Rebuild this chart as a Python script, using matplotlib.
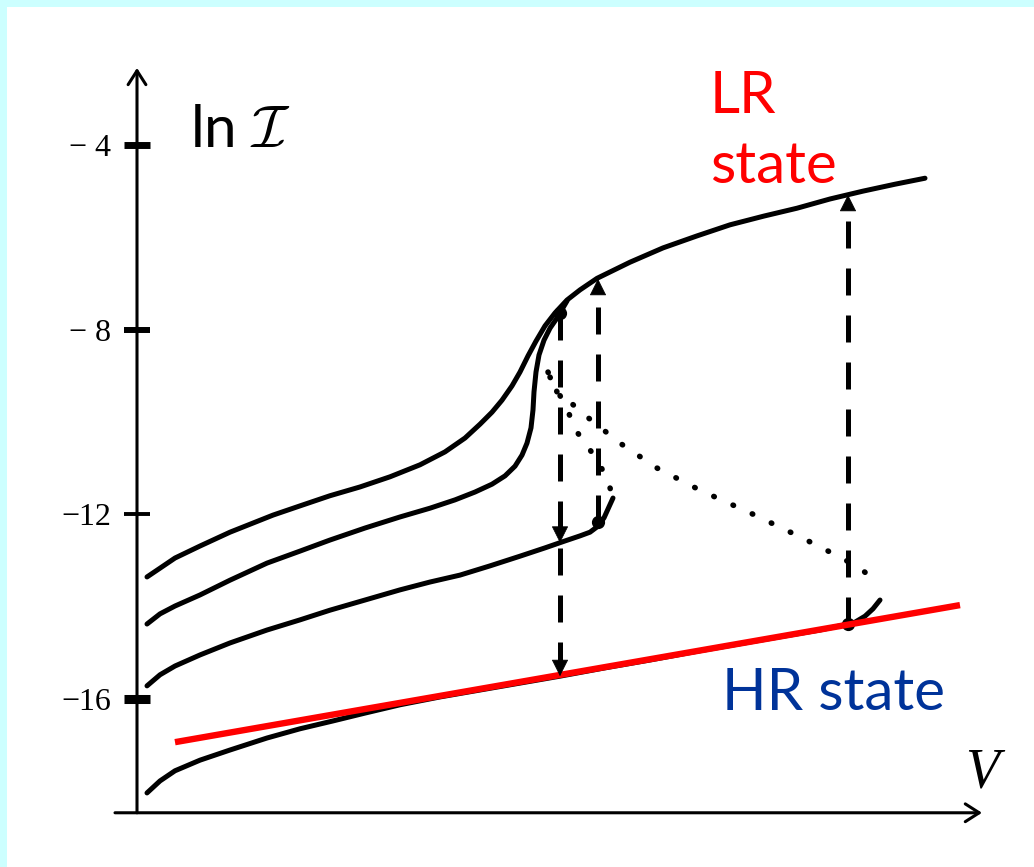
import numpy as np
import matplotlib.pyplot as plt

# I-V branches (V in arbitrary units, ln I)
v_a = [0.10, 0.23, 0.38, 0.63, 0.93, 1.36, 1.63, 1.93, 2.23, 2.53, 2.83, 3.08, 3.28, 3.43,
       3.55, 3.65, 3.75, 3.83, 3.91, 3.99, 4.08, 4.18, 4.30, 4.43, 4.60, 4.93, 5.26, 5.60,
       5.93, 6.27, 6.60, 6.93, 7.26, 7.58, 7.88]
ln_a = [-13.36, -13.17, -12.95, -12.69, -12.39, -12.02, -11.82, -11.60, -11.41, -11.19,
        -10.93, -10.65, -10.35, -10.05, -9.79, -9.53, -9.22, -8.92, -8.57, -8.25, -7.92,
        -7.64, -7.36, -7.14, -6.89, -6.54, -6.23, -5.97, -5.73, -5.54, -5.37, -5.17, -5.00,
        -4.85, -4.72]

v_b = [0.10, 0.23, 0.38, 0.63, 0.93, 1.30, 1.63, 1.93, 2.28, 2.63, 2.93, 3.18, 3.38, 3.55,
       3.68, 3.78, 3.85, 3.90, 3.94, 3.96, 3.97, 3.99, 4.02, 4.07, 4.13, 4.20, 4.30]
ln_b = [-14.38, -14.16, -13.99, -13.75, -13.43, -13.06, -12.80, -12.56, -12.30, -12.06,
        -11.87, -11.69, -11.52, -11.35, -11.17, -10.96, -10.72, -10.46, -10.13, -9.74, -9.35,
        -8.92, -8.55, -8.23, -7.97, -7.75, -7.38]

v_c = [0.10, 0.23, 0.38, 0.63, 0.93, 1.30, 1.63, 1.93, 2.28, 2.63, 2.93, 3.23, 3.53, 3.83,
       4.08, 4.28, 4.43, 4.53, 4.61, 4.67, 4.72, 4.76]
ln_c = [-15.72, -15.48, -15.29, -15.05, -14.79, -14.51, -14.29, -14.08, -13.86, -13.64,
        -13.47, -13.32, -13.12, -12.91, -12.73, -12.58, -12.47, -12.39, -12.26, -12.08,
        -11.84, -11.65]

v_d = [0.10, 0.23, 0.38, 0.63, 0.93, 1.30, 1.63, 1.96, 2.28, 2.63, 3.03, 3.43, 3.83, 4.23,
       4.68, 5.13, 5.63, 6.13, 6.53, 6.83, 7.03, 7.18, 7.28, 7.36, 7.43]
ln_d = [-18.04, -17.78, -17.56, -17.33, -17.11, -16.85, -16.65, -16.48, -16.31, -16.13,
        -15.96, -15.81, -15.66, -15.51, -15.33, -15.16, -14.96, -14.77, -14.62, -14.51,
        -14.42, -14.34, -14.21, -14.05, -13.86]

# unstable branches (dotted)
v_u1 = [4.11, 4.20, 4.33, 4.50, 4.83, 5.20, 5.63, 6.13, 6.63, 7.03, 7.23, 7.41]
ln_u1 = [-8.92, -9.35, -9.57, -9.89, -10.46, -11.00, -11.48, -11.97, -12.49, -12.93,
         -13.17, -13.49]
v_u2 = [4.13, 4.28, 4.40, 4.51, 4.63, 4.71, 4.75]
ln_u2 = [-9.03, -9.63, -10.22, -10.54, -10.93, -11.30, -11.56]

# HR fit line
v_fit = [0.38, 8.23]
ln_fit = [-16.94, -13.97]

# switching jumps
jump_down_v = 4.23
jump_down = [-7.64, -12.62, -15.51]
jump_up_v = [4.61, 7.11]
jump_up_from = [-12.17, -14.38]
jump_up_to = [-6.90, -5.08]

ticks = [-4, -8, -12, -16]
tick_labels = ['\u2212 4', '\u2212 8', '\u221212', '\u221216']
tick_widths = [5.0, 4.3, 2.8, 6.5]

fig = plt.figure(figsize=(10.34, 8.67), dpi=100, facecolor='#ccffff')
ax = fig.add_axes([7 / 1034, 0, 1 - 7 / 1034, 1 - 7 / 867])
ax.set_facecolor('white')
ax.set_xlim(-1.30, 8.97)
ax.set_ylim(-19.645, -1.01)

for s in ax.spines.values():
    s.set_visible(False)
ax.spines['left'].set_position(('data', 0))
ax.set_xticks([])
ax.set_yticks(ticks, tick_labels)
ax.tick_params(axis='y', direction='inout', length=18.7, width=3, pad=9.4,
               labelsize=23, colors='black')
for t, w in zip(ax.yaxis.get_major_ticks(), tick_widths):
    t.tick1line.set_markeredgewidth(w)
for lab in ax.get_yticklabels():
    lab.set_fontfamily('Liberation Serif')

# axes with arrows
y0 = -18.47
axis_style = dict(arrowstyle='->,head_length=0.5,head_width=0.32', mutation_scale=20,
                  lw=2.2, color='black', shrinkA=0, shrinkB=0)
ax.annotate('', xy=(0, -2.33), xytext=(0, y0), arrowprops=axis_style)
ax.annotate('', xy=(8.45, y0), xytext=(-0.22, y0), arrowprops=axis_style)

curve_kw = dict(color='black', lw=3.6, solid_capstyle='round', solid_joinstyle='round')
ax.plot(v_a, ln_a, **curve_kw)
ax.plot(v_b, ln_b, **curve_kw)
ax.plot(v_c, ln_c, **curve_kw)
ax.plot(v_d, ln_d, **curve_kw)

dot_kw = dict(color='black', lw=4.0, linestyle=(0, (0.1, 3.7)), dash_capstyle='round')
ax.plot(v_u1, ln_u1, **dot_kw)
ax.plot(v_u2, ln_u2, **dot_kw)

dash_kw = dict(color='black', lw=3.6, linestyle=(0, (5.4, 4.0)), dash_capstyle='butt')
head = dict(arrowstyle='-|>,head_length=1.1,head_width=0.55', color='black', lw=0.5,
            shrinkA=0, shrinkB=0)

ax.plot([jump_down_v, jump_down_v], [jump_down[0], jump_down[-1] + 0.3], **dash_kw)
for y in jump_down[1:]:
    ax.annotate('', xy=(jump_down_v, y), xytext=(0, 11), textcoords='offset points',
                arrowprops=head)
for x, y1, y2 in zip(jump_up_v, jump_up_from, jump_up_to):
    ax.plot([x, x], [y1, y2 - 0.3], **dash_kw)
    ax.annotate('', xy=(x, y2), xytext=(0, -11), textcoords='offset points',
                arrowprops=head)

ax.plot(jump_up_v + [jump_down_v], jump_up_from + [jump_down[0]], 'o', color='black', ms=8.5)

ax.plot(v_fit, ln_fit, color='#ff0000', lw=4.6, solid_capstyle='butt')

# labels
txt = dict(fontfamily='Lato', fontsize=42, va='baseline', ha='left')
ax.text(5.73, -3.31, 'LR', color='#ff0000', **txt)
ax.text(5.73, -4.82, 'state', color='#ff0000', **txt)
ax.text(5.85, -16.24, 'HR state', color='#003399', **txt)
ax.text(0.53, -4.04, r'ln $\mathcal{I}$', color='black', math_fontfamily='cm', **txt)
ax.text(8.28, -17.93, 'V', color='black', fontfamily='Liberation Serif', style='italic',
        fontsize=40, va='baseline', ha='left')

fig.savefig('out.png', dpi=100, facecolor=fig.get_facecolor())
